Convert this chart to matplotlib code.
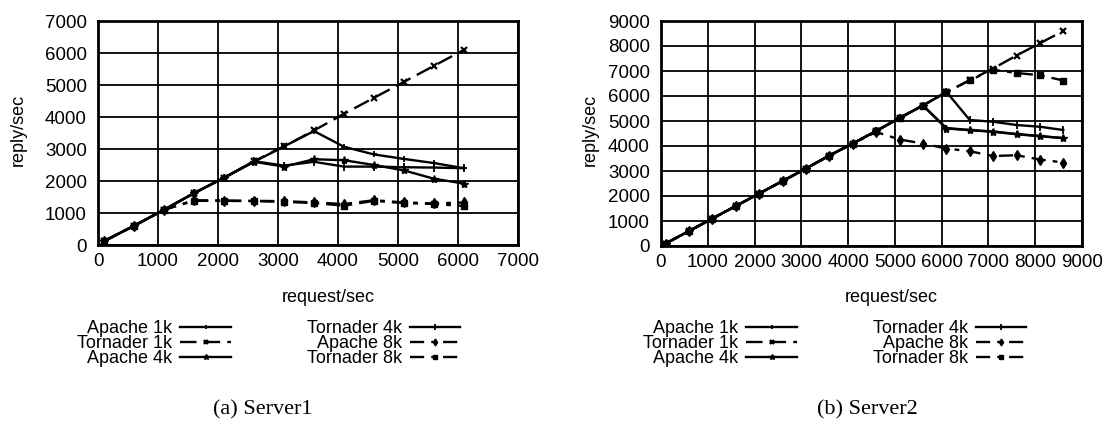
import matplotlib
matplotlib.use("Agg")
import matplotlib.pyplot as plt

plt.rcParams['font.family'] = ['Liberation Sans', 'DejaVu Sans']

# ---- data: Server1 ----
s1_x = [100, 600, 1100, 1600, 2100, 2600, 3100, 3600, 4100, 4600, 5100, 5600, 6100]
s1_apache_1k = [120, 600, 1100, 1620, 2100, 2600, 3080, 3560, 3070, 2830, 2690, 2560, 2400]
s1_tornader_1k = [120, 600, 1100, 1620, 2100, 2620, 3080, 3580, 4100, 4600, 5100, 5600, 6100]
s1_apache_4k = [120, 600, 1100, 1620, 2100, 2600, 2450, 2680, 2650, 2500, 2330, 2070, 1920]
s1_tornader_4k = [120, 600, 1100, 1620, 2100, 2620, 2480, 2600, 2450, 2450, 2430, 2420, 2400]
s1_apache_8k = [120, 600, 1100, 1400, 1390, 1380, 1370, 1330, 1280, 1400, 1330, 1300, 1330]
s1_tornader_8k = [120, 600, 1100, 1380, 1380, 1370, 1350, 1310, 1230, 1380, 1310, 1280, 1220]

# ---- data: Server2 ----
s2_x = [100, 600, 1100, 1600, 2100, 2600, 3100, 3600, 4100, 4600, 5100, 5600, 6100,
        6600, 7100, 7600, 8100, 8600]
s2_apache_1k = [100, 600, 1100, 1600, 2100, 2600, 3100, 3620, 4100, 4600, 5120, 5620, 4720,
                4640, 4580, 4480, 4400, 4310]
s2_tornader_1k = [100, 600, 1100, 1600, 2100, 2600, 3100, 3620, 4100, 4600, 5120, 5620, 6150,
                  6630, 7100, 7620, 8110, 8600]
s2_apache_4k = [100, 600, 1100, 1600, 2100, 2600, 3100, 3620, 4100, 4600, 5120, 5620, 4700,
                4630, 4570, 4470, 4390, 4320]
s2_tornader_4k = [100, 600, 1100, 1600, 2100, 2600, 3100, 3620, 4100, 4600, 5120, 5620, 6170,
                  5040, 4970, 4840, 4770, 4640]
s2_apache_8k = [100, 600, 1100, 1600, 2100, 2600, 3100, 3620, 4100, 4560, 4260, 4100, 3900,
                3790, 3600, 3630, 3460, 3340]
s2_tornader_8k = [100, 600, 1100, 1600, 2100, 2600, 3100, 3620, 4100, 4600, 5120, 5620, 6150,
                  6630, 7050, 6920, 6830, 6620]

labels = ["Apache 1k", "Tornader 1k", "Apache 4k", "Tornader 4k", "Apache 8k", "Tornader 8k"]

styles = [
    dict(linestyle='-', marker='+', markersize=5, mew=1.3),
    dict(linestyle=(0, (7, 3)), marker='x', markersize=5, mew=1.6),
    dict(linestyle='-', marker='*', markersize=6),
    dict(linestyle='-', marker='|', markersize=6, mew=1.3),
    dict(linestyle=(0, (6, 3, 2, 3)), marker='d', markersize=5),
    dict(linestyle=(0, (6, 3, 2, 3)), marker='s', markersize=4),
]

W, H = 1106, 429
fig = plt.figure(figsize=(W / 100, H / 100), dpi=100)


def make_ax(rect_px, x, series, xmax, ymax, ylabel_x, caption, cap_x, leg_x):
    l, r, t, b = rect_px
    ax = fig.add_axes([l / W, (H - b) / H, (r - l) / W, (b - t) / H])
    for vals, st, lab in zip(series, styles, labels):
        ax.plot(x, vals, color='black', linewidth=1.7, label=lab, **st)
    ax.set_xlim(0, xmax)
    ax.set_ylim(0, ymax)
    ax.set_xticks(range(0, xmax + 1, 1000))
    ax.set_yticks(range(0, ymax + 1, 1000))
    ax.tick_params(length=0, labelsize=13.5)
    ax.tick_params(axis='y', pad=8)
    ax.tick_params(axis='x', pad=6)
    ax.grid(True, color='black', linewidth=1.3)
    for sp in ax.spines.values():
        sp.set_linewidth(2)
    cx = (l + r) / 2
    fig.text(ylabel_x / W, 1 - 130 / H, "reply/sec", rotation=90, ha='center', va='center',
             fontsize=13)
    fig.text((cx + 20) / W, 1 - 298 / H, "request/sec", ha='center', va='center', fontsize=13)
    fig.text(cap_x / W, 1 - 410 / H, caption, ha='center', va='center', fontsize=16,
             family=['Liberation Serif', 'DejaVu Serif'])
    h, lb = ax.get_legend_handles_labels()
    fig.legend(h, lb, loc='upper left', bbox_to_anchor=(leg_x / W, 1 - 320 / H),
               ncol=2, markerfirst=False, frameon=False, fontsize=13, markerscale=0.7,
               handlelength=2.8, handletextpad=0.45, columnspacing=4.2,
               labelspacing=-0.1, borderpad=0, borderaxespad=0)
    return ax


make_ax((98, 518, 21, 245), s1_x,
        [s1_apache_1k, s1_tornader_1k, s1_apache_4k, s1_tornader_4k, s1_apache_8k, s1_tornader_8k],
        7000, 7000, 18, "(a) Server1", 263, 77)
make_ax((661, 1082, 21, 246), s2_x,
        [s2_apache_1k, s2_tornader_1k, s2_apache_4k, s2_tornader_4k, s2_apache_8k, s2_tornader_8k],
        9000, 9000, 590, "(b) Server2", 867, 643)

fig.savefig("out.png", dpi=100)
